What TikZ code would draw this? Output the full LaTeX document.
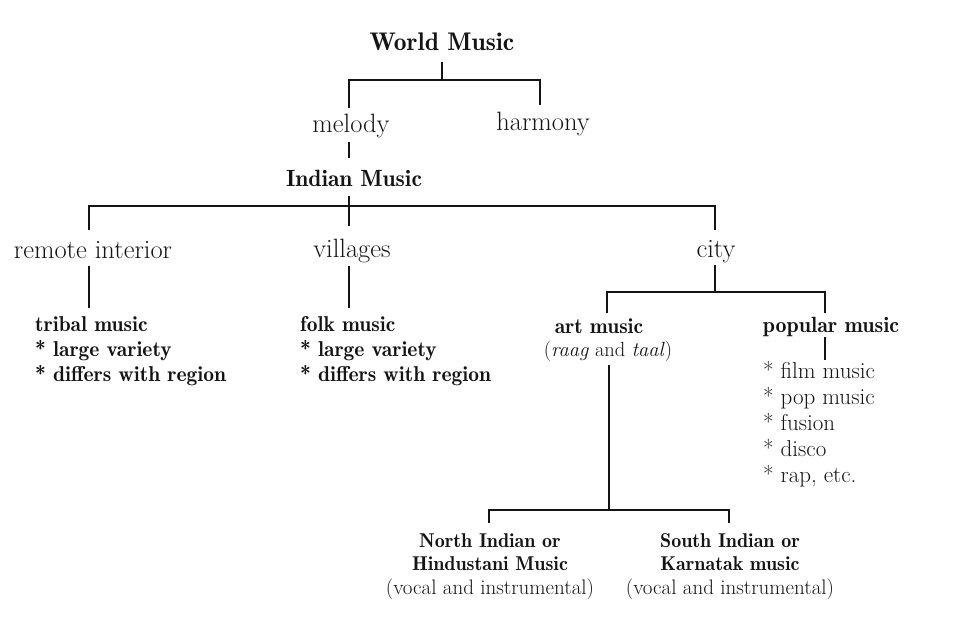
\documentclass[tikz,border=0pt]{standalone}
\usepackage{xcolor}
\definecolor{ink}{HTML}{141414}
\newcommand{\bfd}{\fontseries{b}\selectfont}
\begin{document}
\begin{tikzpicture}[x=1pt,y=-1pt,
  txt/.style={inner sep=0pt,text=ink,font=\fontsize{26.5}{28}\selectfont},
  btxt/.style={inner sep=0pt,text=ink},
  conn/.style={draw=ink,line width=1.6pt}]
\useasboundingbox (0,0) rectangle (975,630);
% nodes
\node[btxt,anchor=base,font=\fontsize{25.5}{26}\selectfont\bfd] (world) at (442,50) {World Music};
\node[txt,anchor=base] (melody) at (351,132) {melody};
\node[txt,anchor=base] (harmony) at (543,130) {harmony};
\node[btxt,anchor=base,font=\fontsize{23.5}{26}\selectfont\bfd] (indian) at (354,186) {Indian Music};
\node[txt,anchor=base] (remote) at (93,258) {remote interior};
\node[txt,anchor=base] (villages) at (352,257) {villages};
\node[txt,anchor=base] (city) at (716,257) {city};
\node[btxt,anchor=base west,align=left,font=\fontsize{21.5}{25}\selectfont\bfd] (tribal) at (35,381) {tribal music\\* large variety\\* differs with region};
\node[btxt,anchor=base west,align=left,font=\fontsize{21.5}{25}\selectfont\bfd] (folk) at (300,381) {folk music\\* large variety\\* differs with region};
\node[btxt,anchor=base,font=\fontsize{21.5}{25}\selectfont\bfd] (art) at (599,333) {art music};
\node[txt,anchor=base,font=\fontsize{20.5}{25}\selectfont] (raag) at (608,356) {(\textit{raag} and \textit{taal})};
\node[btxt,anchor=base,font=\fontsize{22}{25}\selectfont\bfd] (popular) at (831,332) {popular music};
\node[txt,anchor=base west,align=left,font=\fontsize{23}{25.8}\selectfont] (poplist) at (763,482) {* film music\\* pop music\\* fusion\\* disco\\* rap, etc.};
\node[btxt,anchor=base,align=center,font=\fontsize{20}{23.5}\selectfont\bfd] (north) at (490,594) {North Indian or\\Hindustani Music\\\fontsize{21}{23.5}\selectfont\mdseries(vocal and instrumental)};
\node[btxt,anchor=base,align=center,font=\fontsize{20}{23.5}\selectfont\bfd] (south) at (730,594) {South Indian or\\Karnatak music\\\fontsize{21}{23.5}\selectfont\mdseries(vocal and instrumental)};
% junctions
\coordinate (jW) at (442,80);
\coordinate (jI) at (349,206);
\coordinate (jC) at (715,292);
\coordinate (jA) at (609,510);
% connectors
\draw[conn] (442,62) -- (jW);
\draw[conn] (349,108) -- (349,80) -- (540,80) -- (540,105);
\draw[conn] (349,142) -- (349,158);
\draw[conn] (349,196) -- (349,226);
\draw[conn] (89,230) -- (89,206) -- (715,206) -- (715,230);
\draw[conn] (89,266) -- (89,308);
\draw[conn] (349,266) -- (349,308);
\draw[conn] (715,265) -- (jC);
\draw[conn] (607,313) -- (607,292) -- (825,292) -- (825,313);
\draw[conn] (825,337) -- (825,360);
\draw[conn] (609,365) -- (jA);
\draw[conn] (489,523) -- (489,510) -- (729,510) -- (729,523);
\end{tikzpicture}
\end{document}
